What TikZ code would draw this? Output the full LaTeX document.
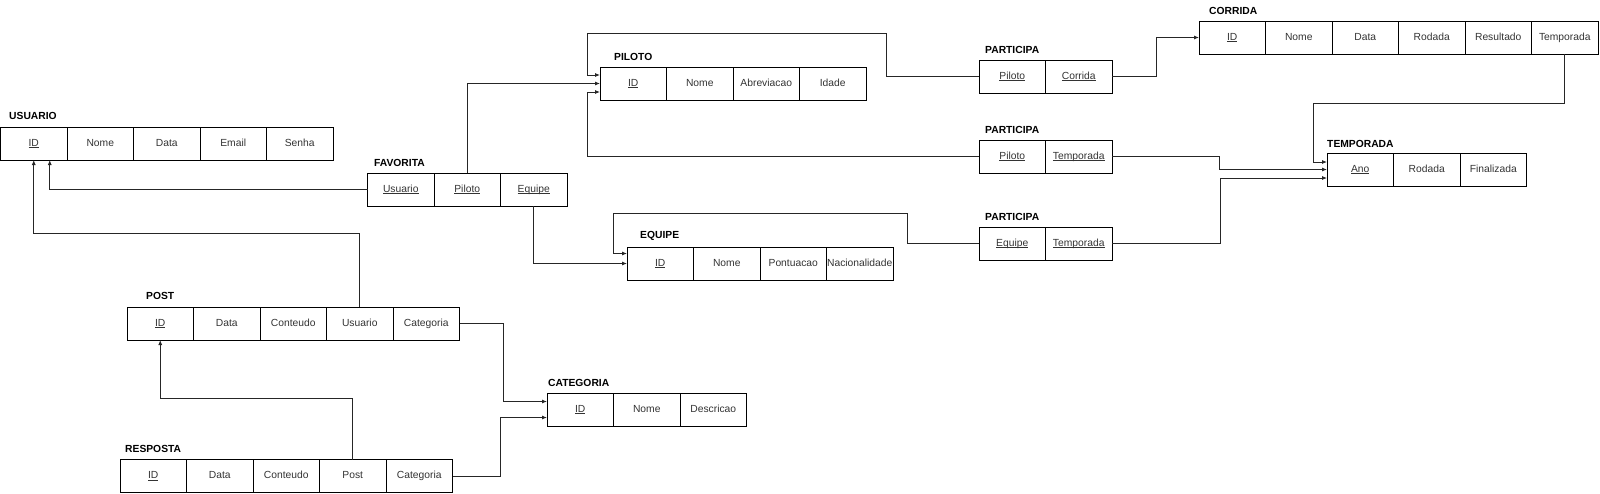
\documentclass[tikz,border=0pt]{standalone}
\usepackage{fontspec}
\setmainfont{Liberation Sans}
\usetikzlibrary{calc,arrows.meta}
\newcommand\cellfnt{\fontsize{10.3}{12}\selectfont}
\newcommand\ttlfnt{\fontsize{10.3}{12}\selectfont\bfseries}
\newcommand\ulk[1]{\setbox0\hbox{#1}\rlap{\rule[-1.7pt]{\wd0}{0.55pt}}\box0}
\tikzset{
  cell/.style={draw=black, line width=0.8pt, minimum width=66.5pt, minimum height=33pt,
    inner sep=0pt, outer sep=0pt, font=\cellfnt, text=black!80,
    text height=7.4pt, text depth=2.2pt},
  ttl/.style={anchor=west, font=\ttlfnt, inner sep=0pt, text=black},
  fk/.style={draw=black!85, line width=0.8pt, -{Latex[length=5pt,width=4pt]}},
}
\begin{document}
\begin{tikzpicture}[x=1pt,y=-1pt]
\useasboundingbox (0,0) rectangle (1600,493);
% USUARIO
\node[ttl] (tus) at (9,116) {USUARIO};
\node[cell] (u1) at (33.75,143.5) {\ulk{ID}};
\node[cell] (u2) at (100.25,143.5) {Nome};
\node[cell] (u3) at (166.75,143.5) {Data};
\node[cell] (u4) at (233.25,143.5) {Email};
\node[cell] (u5) at (299.75,143.5) {Senha};
% FAVORITA
\node[ttl] (tfa) at (374,163) {FAVORITA};
\node[cell] (fa1) at (400.75,189.5) {\ulk{Usuario}};
\node[cell] (fa2) at (467.25,189.5) {\ulk{Piloto}};
\node[cell] (fa3) at (533.75,189.5) {\ulk{Equipe}};
% PILOTO
\node[ttl] (tpi) at (614,57) {PILOTO};
\node[cell] (p1) at (633.25,83.5) {\ulk{ID}};
\node[cell] (p2) at (699.75,83.5) {Nome};
\node[cell] (p3) at (766.25,83.5) {Abreviacao};
\node[cell] (p4) at (832.75,83.5) {Idade};
% PARTICIPA 1
\node[ttl] (tpa1) at (985,50) {PARTICIPA};
\node[cell] (pa1a) at (1012.25,76.5) {\ulk{Piloto}};
\node[cell] (pa1b) at (1078.75,76.5) {\ulk{Corrida}};
% PARTICIPA 2
\node[ttl] (tpa2) at (985,130) {PARTICIPA};
\node[cell] (pa2a) at (1012.25,156.5) {\ulk{Piloto}};
\node[cell] (pa2b) at (1078.75,156.5) {\ulk{Temporada}};
% PARTICIPA 3
\node[ttl] (tpa3) at (985,217) {PARTICIPA};
\node[cell] (pa3a) at (1012.25,243.5) {\ulk{Equipe}};
\node[cell] (pa3b) at (1078.75,243.5) {\ulk{Temporada}};
% CORRIDA
\node[ttl] (tco) at (1209,11) {CORRIDA};
\node[cell] (c1) at (1232.25,37.5) {\ulk{ID}};
\node[cell] (c2) at (1298.75,37.5) {Nome};
\node[cell] (c3) at (1365.25,37.5) {Data};
\node[cell] (c4) at (1431.75,37.5) {Rodada};
\node[cell] (c5) at (1498.25,37.5) {Resultado};
\node[cell] (c6) at (1564.75,37.5) {Temporada};
% TEMPORADA
\node[ttl] (tte) at (1327,144) {TEMPORADA};
\node[cell] (t1) at (1360.25,169.5) {\ulk{Ano}};
\node[cell] (t2) at (1426.75,169.5) {Rodada};
\node[cell] (t3) at (1493.25,169.5) {Finalizada};
% EQUIPE
\node[ttl] (teq) at (640,236) {EQUIPE};
\node[cell] (e1) at (660.25,263.5) {\ulk{ID}};
\node[cell] (e2) at (726.75,263.5) {Nome};
\node[cell] (e3) at (793.25,263.5) {Pontuacao};
\node[cell] (e4) at (859.75,263.5) {Nacionalidade};
% POST
\node[ttl] (tpo) at (146,296) {POST};
\node[cell] (po1) at (160.25,323.5) {\ulk{ID}};
\node[cell] (po2) at (226.75,323.5) {Data};
\node[cell] (po3) at (293.25,323.5) {Conteudo};
\node[cell] (po4) at (359.75,323.5) {Usuario};
\node[cell] (po5) at (426.25,323.5) {Categoria};
% CATEGORIA
\node[ttl] (tca) at (548,383) {CATEGORIA};
\node[cell] (ca1) at (580.25,409.5) {\ulk{ID}};
\node[cell] (ca2) at (646.75,409.5) {Nome};
\node[cell] (ca3) at (713.25,409.5) {Descricao};
% RESPOSTA
\node[ttl] (tre) at (125,449) {RESPOSTA};
\node[cell] (r1) at (153.25,476) {\ulk{ID}};
\node[cell] (r2) at (219.75,476) {Data};
\node[cell] (r3) at (286.25,476) {Conteudo};
\node[cell] (r4) at (352.75,476) {Post};
\node[cell] (r5) at (419.25,476) {Categoria};
% connectors
\draw[fk] (fa1.west) -| ([xshift=16pt]u1.south);
\draw[fk] (po4.north) -- ++(0,-74) -| (u1.south);
\draw[fk] (fa2.north) |- (p1.west);
\draw[fk] (pa1a.west) -- ++(-93,0) -- ++(0,-43.5) -| ([xshift=-13pt,yshift=8.5pt]p1.west) -- ([yshift=8.5pt]p1.west);
\draw[fk] (pa2a.west) -| ([xshift=-13pt,yshift=-8.5pt]p1.west) -- ([yshift=-8.5pt]p1.west);
\draw[fk] (pa1b.east) -- ++(44,0) |- (c1.west);
\draw[fk] (c6.south) -- ++(0,49) -| ([xshift=-14pt,yshift=7.5pt]t1.west) -- ([yshift=7.5pt]t1.west);
\draw[fk] (pa2b.east) -- ++(107,0) |- (t1.west);
\draw[fk] (pa3b.east) -- ++(108,0) |- ([yshift=-8.5pt]t1.west);
\draw[fk] (pa3a.west) -- ++(-72,0) -- ++(0,-30.5) -| ([xshift=-14pt,yshift=10pt]e1.west) -- ([yshift=10pt]e1.west);
\draw[fk] (fa3.south) |- (e1.west);
\draw[fk] (po5.east) -- ++(43.5,0) |- ([yshift=8pt]ca1.west);
\draw[fk] (r4.north) -- ++(0,-61) -| (po1.south);
\draw[fk] (r5.east) -- ++(47.5,0) |- ([yshift=-8pt]ca1.west);
\end{tikzpicture}
\end{document}
